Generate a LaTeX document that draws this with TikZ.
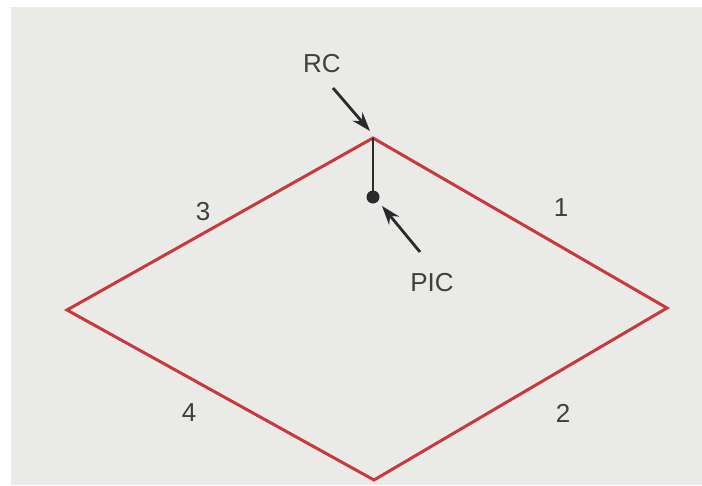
\documentclass[tikz,border=0pt]{standalone}
\usepackage{fontspec}
\setmainfont{Liberation Sans}
\usetikzlibrary{arrows.meta}
\definecolor{paper}{HTML}{EAEAE7}
\definecolor{dred}{HTML}{C8383F}
\definecolor{ink}{HTML}{2A2A2C}
\tikzset{
  edge/.style={draw=dred, line width=3pt, line join=miter},
  pointer/.style={draw=ink, line width=2.8pt, -{Stealth[length=19pt,width=13pt]}},
  lbl/.style={font=\fontsize{26}{30}\selectfont, text=ink!90, inner sep=0pt}
}
\begin{document}
\begin{tikzpicture}[x=1pt,y=-1pt]
\useasboundingbox (0,0) rectangle (702,485);
\fill[white] (0,0) rectangle (702,485);
\fill[paper] (11,7) rectangle (702,485);
% diamond vertices
\coordinate (T) at (373,138);
\coordinate (R) at (667,308);
\coordinate (B) at (374,480);
\coordinate (L) at (67,310);
\draw[edge] (T) -- (R) -- (B) -- (L) -- cycle;
% vertical line and dot
\node[circle, fill=ink, minimum size=13pt, inner sep=0pt] (dot) at (373,197) {};
\draw[draw=ink, line width=2.6pt] (T) -- (dot.center);
% labels
\node[lbl] (rc) at (322,64) {RC};
\node[lbl] (pic) at (432,283) {PIC};
\coordinate (rcs) at (333,88);
\coordinate (rct) at (370,131);
\coordinate (pics) at (420,252);
\coordinate (pict) at (382,206);
\draw[pointer] (rcs) -- (rct);
\draw[pointer] (pics) -- (pict);
\node[lbl] (n3) at (203,212) {3};
\node[lbl] (n1) at (561,208) {1};
\node[lbl] (n4) at (189,413) {4};
\node[lbl] (n2) at (563,413) {2};
\end{tikzpicture}
\end{document}
